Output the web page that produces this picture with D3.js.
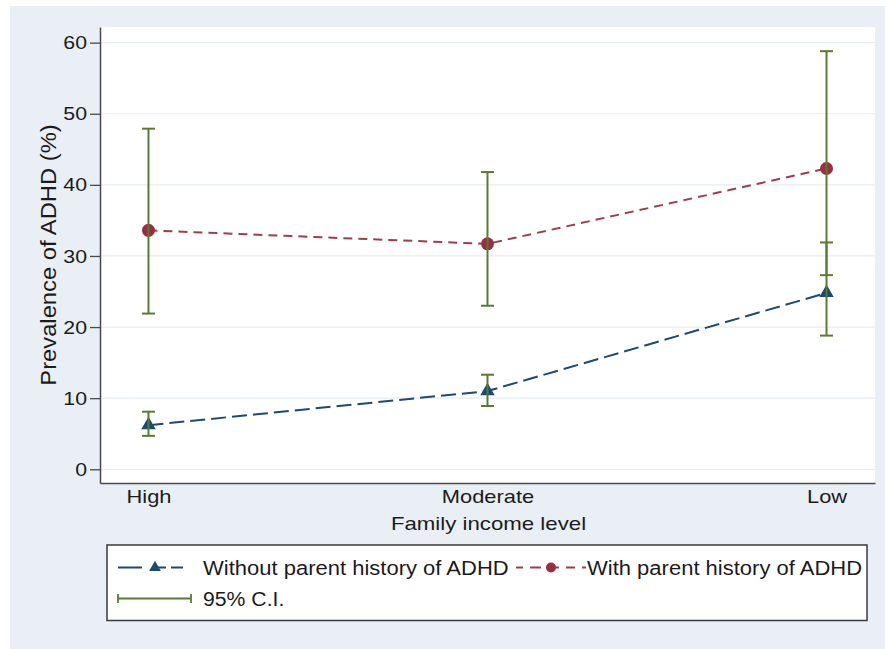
<!DOCTYPE html>
<html>
<head>
<meta charset="utf-8">
<script src="https://cdn.jsdelivr.net/npm/d3@7"></script>
<style>
  html, body { margin: 0; padding: 0; background: #ffffff; }
  svg { display: block; }
  text { font-family: "Liberation Sans", Arial, Helvetica, sans-serif; fill: #1b1b1b; }
</style>
</head>
<body>
<svg id="chart" width="885" height="649"></svg>
<script>
// ---- data ----
const categories = ["High", "Moderate", "Low"];
const withoutValues = [6.2, 11.0, 24.8];
const withoutLower = [4.7, 8.9, 18.8];
const withoutUpper = [8.1, 13.3, 31.9];
const withValues = [33.6, 31.7, 42.3];
const withLower = [21.9, 23.0, 27.3];
const withUpper = [47.9, 41.8, 58.8];
const yTicks = [0, 10, 20, 30, 40, 50, 60];
const seriesNames = ["Without parent history of ADHD", "With parent history of ADHD"];
const ciName = "95% C.I.";
const xTitle = "Family income level";
const yTitle = "Prevalence of ADHD (%)";

// ---- styles ----
const navy = "#1c4a73", maroon = "#972f40", maroonLine = "#a03c4d", green = "#5a7a33";
const bg = "#e9eff5", grid = "#e6edf2", axisCol = "#4a4a4a";

const svg = d3.select("#chart");
const W = 885, H = 649;
const plot = { left: 100, right: 875, top: 27, bottom: 483 };

function stretch(sel, f) {
  sel.each(function () {
    const L = this.getComputedTextLength();
    this.setAttribute("textLength", L * f);
    this.setAttribute("lengthAdjust", "spacingAndGlyphs");
  });
}

// background
svg.append("rect").attr("x", 10).attr("y", 6).attr("width", W - 10).attr("height", H - 6).attr("fill", bg);
svg.append("rect").attr("x", plot.left).attr("y", plot.top)
  .attr("width", plot.right - plot.left).attr("height", plot.bottom - plot.top).attr("fill", "#ffffff");

const x = d3.scalePoint().domain(categories).range([plot.left, plot.right]).padding(0.143);
const y = d3.scaleLinear().domain([-1.93, 62.2]).range([plot.bottom, plot.top]);

// grid
svg.append("g").selectAll("line").data(yTicks).join("line")
  .attr("x1", plot.left).attr("x2", plot.right)
  .attr("y1", d => y(d)).attr("y2", d => y(d))
  .attr("stroke", grid).attr("stroke-width", 1.2);

// axes
const yAxis = svg.append("g").attr("transform", `translate(${plot.left},0)`)
  .call(d3.axisLeft(y).tickValues(yTicks).tickSize(10).tickSizeOuter(0).tickPadding(3));
yAxis.select(".domain").attr("stroke", axisCol).attr("stroke-width", 1.5);
yAxis.selectAll(".tick line").attr("stroke", axisCol).attr("stroke-width", 1.3);
yAxis.selectAll(".tick text").attr("font-size", 19).attr("fill", "#1b1b1b")
  .style("font-family", '"Liberation Sans", Arial, sans-serif').call(stretch, 1.12);

const xAxis = svg.append("g").attr("transform", `translate(0,${plot.bottom})`)
  .call(d3.axisBottom(x).tickSize(0).tickSizeOuter(0).tickPadding(7));
xAxis.select(".domain").attr("stroke", axisCol).attr("stroke-width", 1.5);
xAxis.selectAll(".tick text").attr("font-size", 19).attr("fill", "#1b1b1b")
  .style("font-family", '"Liberation Sans", Arial, sans-serif').call(stretch, 1.15);

// titles
svg.append("text").attr("x", (plot.left + plot.right) / 2 + 1).attr("y", 529.5)
  .attr("text-anchor", "middle").attr("font-size", 19).text(xTitle).call(stretch, 1.17);
svg.append("text").attr("transform", "translate(56,255) rotate(-90)")
  .attr("text-anchor", "middle").attr("font-size", 22).text(yTitle).call(stretch, 1.08);

// lines
const line = (vals) => d3.line().x((d, i) => x(categories[i])).y(d => y(d))(vals);
svg.append("path").attr("d", line(withValues)).attr("fill", "none")
  .attr("stroke", maroonLine).attr("stroke-width", 2).attr("stroke-dasharray", "9,6");
svg.append("path").attr("d", line(withoutValues)).attr("fill", "none")
  .attr("stroke", navy).attr("stroke-width", 2).attr("stroke-dasharray", "15,6");

// markers
const tri = d3.symbol().type(d3.symbolTriangle).size(90);
svg.append("g").selectAll("path").data(withoutValues).join("path")
  .attr("d", tri).attr("transform", (d, i) => `translate(${x(categories[i])},${y(d)})`)
  .attr("fill", navy);
svg.append("g").selectAll("circle").data(withValues).join("circle")
  .attr("cx", (d, i) => x(categories[i])).attr("cy", d => y(d)).attr("r", 6.5)
  .attr("fill", maroon);

// confidence intervals
function drawCI(lo, hi) {
  const g = svg.append("g").attr("stroke", green).attr("stroke-width", 2);
  categories.forEach((c, i) => {
    const cx = x(c);
    g.append("line").attr("x1", cx).attr("x2", cx).attr("y1", y(lo[i])).attr("y2", y(hi[i]));
    [lo[i], hi[i]].forEach(v => {
      g.append("line").attr("x1", cx - 6.5).attr("x2", cx + 6.5).attr("y1", y(v)).attr("y2", y(v));
    });
  });
}
drawCI(withLower, withUpper);
drawCI(withoutLower, withoutUpper);

// legend
const lg = svg.append("g");
lg.append("rect").attr("x", 107).attr("y", 545).attr("width", 760).attr("height", 75.5)
  .attr("fill", "#ffffff").attr("stroke", "#3a3a3a").attr("stroke-width", 1.5);

const r1 = 567.5, r2 = 598.5;
lg.append("line").attr("x1", 118).attr("x2", 192).attr("y1", r1).attr("y2", r1)
  .attr("stroke", navy).attr("stroke-width", 2).attr("stroke-dasharray", "24,16,8,5,12");
lg.append("path").attr("d", d3.symbol().type(d3.symbolTriangle).size(60))
  .attr("transform", `translate(155,${r1})`).attr("fill", navy);
lg.append("text").attr("x", 203).attr("y", r1 + 7.5).attr("font-size", 20).text(seriesNames[0]).call(stretch, 1.1);

lg.append("line").attr("x1", 516).attr("x2", 586).attr("y1", r1).attr("y2", r1)
  .attr("stroke", maroonLine).attr("stroke-width", 2).attr("stroke-dasharray", "7,7,11,6,12,7,9");
lg.append("circle").attr("cx", 551).attr("cy", r1).attr("r", 5).attr("fill", maroon);
lg.append("text").attr("x", 587).attr("y", r1 + 7.5).attr("font-size", 20).text(seriesNames[1]).call(stretch, 1.1);

const cg = lg.append("g").attr("stroke", green).attr("stroke-width", 1.8);
cg.append("line").attr("x1", 118).attr("x2", 191).attr("y1", r2).attr("y2", r2);
cg.append("line").attr("x1", 118).attr("x2", 118).attr("y1", r2 - 4.5).attr("y2", r2 + 4.5);
cg.append("line").attr("x1", 191).attr("x2", 191).attr("y1", r2 - 4.5).attr("y2", r2 + 4.5);
lg.append("text").attr("x", 203).attr("y", r2 + 7.5).attr("font-size", 20).text(ciName).call(stretch, 1.06);
</script>
</body>
</html>
